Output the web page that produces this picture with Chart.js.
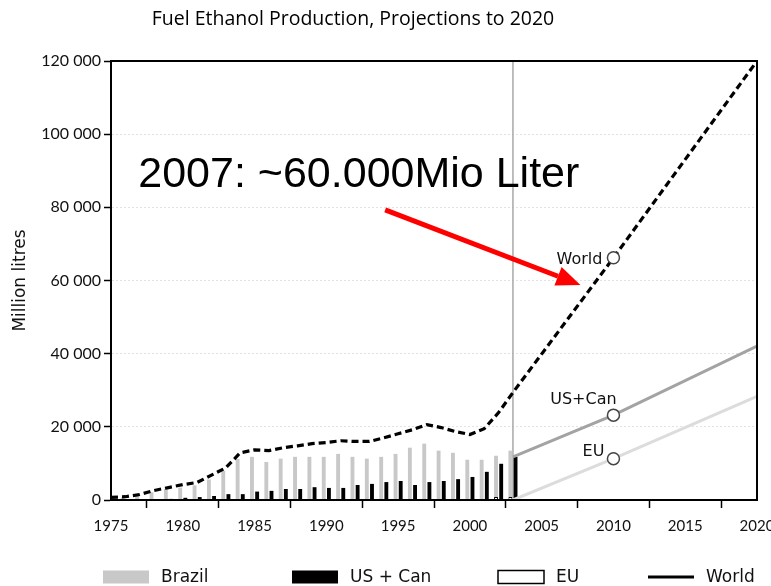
<!DOCTYPE html>
<html>
<head>
<meta charset="utf-8">
<script src="https://cdn.jsdelivr.net/npm/chart.js@4.4.1/dist/chart.umd.min.js"></script>
<style>
  html, body { margin: 0; padding: 0; background: #fff; }
</style>
</head>
<body>
<canvas id="myChart" width="771" height="586"></canvas>
<script>
// historical production, million litres
const years = [1975, 1976, 1977, 1978, 1979, 1980, 1981, 1982, 1983, 1984,
               1985, 1986, 1987, 1988, 1989, 1990, 1991, 1992, 1993, 1994,
               1995, 1996, 1997, 1998, 1999, 2000, 2001, 2002, 2003];
const brazil = [500, 700, 1400, 2100, 3000, 3400, 4000, 5600, 8000, 11200,
                11800, 10400, 11300, 11800, 11800, 11800, 12600, 11800, 11300, 11800,
                12600, 14300, 15400, 13500, 12900, 11000, 11000, 11300, 12700];
const usCan = [100, 100, 100, 200, 300, 600, 800, 1100, 1600, 1600,
               2300, 2500, 3000, 3000, 3500, 3300, 3300, 4100, 4400, 4900,
               5200, 4100, 4900, 5200, 5700, 6300, 7700, 9900, 11800];
const eu = [null, null, null, null, null, null, null, null, null, null,
            null, null, null, null, null, null, null, null, null, null,
            null, null, null, null, null, null, null, 800, 800];
const world = [700, 900, 1500, 2600, 3400, 4200, 4800, 6800, 8800, 12900,
               13700, 13500, 14300, 14800, 15400, 15700, 16200, 16000, 16000, 17000,
               18100, 19200, 20600, 19800, 18700, 17900, 19500, 23900, 29400];

// projections
const projYears = [2003, 2010, 2020];
const worldProj = [29400, 66200, 120000];
const usCanProj = [11800, 23200, 42100];
const euProj = [0, 11300, 28300];
const markYear = 2010;
const splitYear = 2003;

const yMin = 0, yMax = 120000, yStep = 20000;
const xMin = 1975, xMax = 2020, xStep = 5;

const titleText = 'Fuel Ethanol Production, Projections to 2020';
const note = { text: '2007: ~60.000Mio Liter', x: 1976.9, y: 85600 };
const arrow = { fromX: 1994.1, fromY: 79300, toX: 2007.7, toY: 58800 };

const GREY = '#c8c8c8';
const LABEL_FONT = '"DejaVu Sans", sans-serif';

const pts = (xs, ys) => xs.map((x, i) => ({ x: x, y: ys[i] }));
const markRadius = ctx => (ctx.raw && ctx.raw.x === markYear ? 6 : 0);

const spaced = v => String(v).replace(/\B(?=(\d{3})+(?!\d))/g, ' ');

const overlay = {
  id: 'overlay',
  beforeDatasetsDraw(chart) {
    const { ctx, chartArea: a, scales: { x } } = chart;
    const px = x.getPixelForValue(splitYear);
    ctx.save();
    ctx.strokeStyle = '#a8a8a8';
    ctx.lineWidth = 1.5;
    ctx.beginPath();
    ctx.moveTo(px, a.top);
    ctx.lineTo(px, a.bottom);
    ctx.stroke();
    ctx.restore();
  },
  afterDraw(chart) {
    const { ctx, chartArea: a, scales: { x, y } } = chart;
    ctx.save();

    // frame round the plot
    ctx.strokeStyle = '#000';
    ctx.lineWidth = 2;
    ctx.strokeRect(a.left, a.top, a.right - a.left, a.bottom - a.top);

    // title
    ctx.fillStyle = '#000';
    ctx.font = '19.5px "Open Sans", sans-serif';
    ctx.textAlign = 'center';
    ctx.textBaseline = 'middle';
    ctx.fillText(titleText, 353, 19);

    // labels next to the 2010 markers
    const cx = x.getPixelForValue(markYear);
    ctx.font = '16px ' + LABEL_FONT;
    ctx.fillStyle = '#111';
    ctx.textBaseline = 'alphabetic';
    ctx.textAlign = 'right';
    ctx.fillText('World', cx - 11, y.getPixelForValue(worldProj[1]) + 6);
    ctx.textAlign = 'center';
    ctx.fillText('US+Can', cx - 30, y.getPixelForValue(usCanProj[1]) - 11);
    ctx.textAlign = 'right';
    ctx.fillText('EU', cx - 9, y.getPixelForValue(euProj[1]) - 3);

    // annotation
    ctx.font = '43px "Liberation Sans", Arial, sans-serif';
    ctx.fillStyle = '#000';
    ctx.textAlign = 'left';
    ctx.fillText(note.text, x.getPixelForValue(note.x), y.getPixelForValue(note.y));

    // red arrow
    const x1 = x.getPixelForValue(arrow.fromX), y1 = y.getPixelForValue(arrow.fromY);
    const x2 = x.getPixelForValue(arrow.toX), y2 = y.getPixelForValue(arrow.toY);
    const ang = Math.atan2(y2 - y1, x2 - x1);
    const headLen = 24, headHalf = 10;
    const bx = x2 - headLen * Math.cos(ang), by = y2 - headLen * Math.sin(ang);
    ctx.strokeStyle = '#ff0000';
    ctx.fillStyle = '#ff0000';
    ctx.lineWidth = 5;
    ctx.beginPath();
    ctx.moveTo(x1, y1);
    ctx.lineTo(bx, by);
    ctx.stroke();
    ctx.beginPath();
    ctx.moveTo(x2, y2);
    ctx.lineTo(bx + headHalf * Math.sin(ang), by - headHalf * Math.cos(ang));
    ctx.lineTo(bx - headHalf * Math.sin(ang), by + headHalf * Math.cos(ang));
    ctx.closePath();
    ctx.fill();

    // legend
    const items = [
      { label: 'Brazil', left: 103, fill: GREY },
      { label: 'US + Can', left: 292, fill: '#000' },
      { label: 'EU', left: 498, fill: '#fff', stroke: '#000' },
      { label: 'World', left: 648, line: true }
    ];
    const ly = 577, sw = 46, sh = 13;
    ctx.font = '17px ' + LABEL_FONT;
    ctx.textAlign = 'left';
    ctx.textBaseline = 'middle';
    items.forEach(it => {
      if (it.line) {
        ctx.strokeStyle = '#000';
        ctx.lineWidth = 3;
        ctx.beginPath();
        ctx.moveTo(it.left, ly);
        ctx.lineTo(it.left + sw, ly);
        ctx.stroke();
      } else {
        ctx.fillStyle = it.fill;
        ctx.fillRect(it.left, ly - sh / 2, sw, sh);
        if (it.stroke) {
          ctx.strokeStyle = it.stroke;
          ctx.lineWidth = 1.5;
          ctx.strokeRect(it.left, ly - sh / 2, sw, sh);
        }
      }
      ctx.fillStyle = '#111';
      ctx.fillText(it.label, it.left + sw + 12, ly + 1);
    });

    ctx.restore();
  }
};

const ctx = document.getElementById('myChart').getContext('2d');

const myChart = new Chart(ctx, {
  type: 'bar',
  data: {
    datasets: [
      {
        type: 'line',
        label: 'World',
        data: pts(years, world).concat(pts(projYears.slice(1), worldProj.slice(1))),
        borderColor: '#000',
        borderWidth: 3.2,
        borderDash: [7, 4],
        pointRadius: markRadius,
        pointHoverRadius: markRadius,
        pointBackgroundColor: '#fff',
        pointBorderColor: '#444',
        pointBorderWidth: 1.5,
        stack: 'w',
        order: 0
      },
      {
        type: 'line',
        label: 'US + Can projection',
        data: pts(projYears, usCanProj),
        borderColor: '#a3a3a3',
        borderWidth: 3,
        pointRadius: markRadius,
        pointBackgroundColor: '#fff',
        pointBorderColor: '#444',
        pointBorderWidth: 1.5,
        stack: 'u',
        order: 0
      },
      {
        type: 'line',
        label: 'EU projection',
        data: pts(projYears, euProj),
        borderColor: '#dcdcdc',
        borderWidth: 3,
        pointRadius: markRadius,
        pointBackgroundColor: '#fff',
        pointBorderColor: '#444',
        pointBorderWidth: 1.5,
        stack: 'e',
        order: 0
      },
      {
        label: 'EU',
        data: pts(years, eu),
        backgroundColor: '#fff',
        borderColor: '#000',
        borderWidth: 1,
        stack: 'a',
        order: 1
      },
      {
        label: 'Brazil',
        data: pts(years, brazil),
        backgroundColor: GREY,
        stack: 'a',
        order: 1
      },
      {
        label: 'US + Can',
        data: pts(years, usCan),
        backgroundColor: '#000',
        stack: 'b',
        order: 1
      }
    ]
  },
  options: {
    responsive: false,
    animation: false,
    categoryPercentage: 0.72,
    barPercentage: 0.75,
    layout: { padding: { top: 61, right: 14, bottom: 0, left: 0 } },
    plugins: {
      legend: { display: false },
      title: { display: false },
      tooltip: { enabled: false }
    },
    scales: {
      x: {
        type: 'linear',
        min: xMin,
        max: xMax,
        offset: false,
        stacked: true,
        grid: {
          drawOnChartArea: false,
          tickLength: 8,
          tickColor: '#000',
          tickWidth: 1.5
        },
        border: { color: '#000', width: 2 },
        ticks: {
          stepSize: xStep,
          padding: 9,
          color: '#111',
          font: { family: 'Lato', size: 15 },
          maxRotation: 0,
          callback: v => String(v)
        },
        afterFit: s => { s.height = 86; s.paddingLeft = 0; s.paddingRight = 0; }
      },
      y: {
        min: yMin,
        max: yMax,
        stacked: true,
        grid: {
          color: '#e2e2e2',
          lineWidth: 1,
          tickLength: 7,
          tickColor: '#000',
          tickWidth: 1.5,
          tickBorderDash: []
        },
        border: { color: '#000', width: 2, dash: [2, 2] },
        ticks: {
          stepSize: yStep,
          padding: 3,
          color: '#111',
          font: { family: 'Lato', size: 16 },
          callback: v => spaced(v)
        },
        title: {
          display: true,
          text: 'Million litres',
          color: '#111',
          font: { family: 'DejaVu Sans', size: 17 },
          padding: { top: 10, bottom: 0 }
        },
        afterFit: s => { s.width = 111; s.paddingTop = 0; s.paddingBottom = 0; }
      }
    }
  },
  plugins: [overlay]
});
</script>
</body>
</html>
